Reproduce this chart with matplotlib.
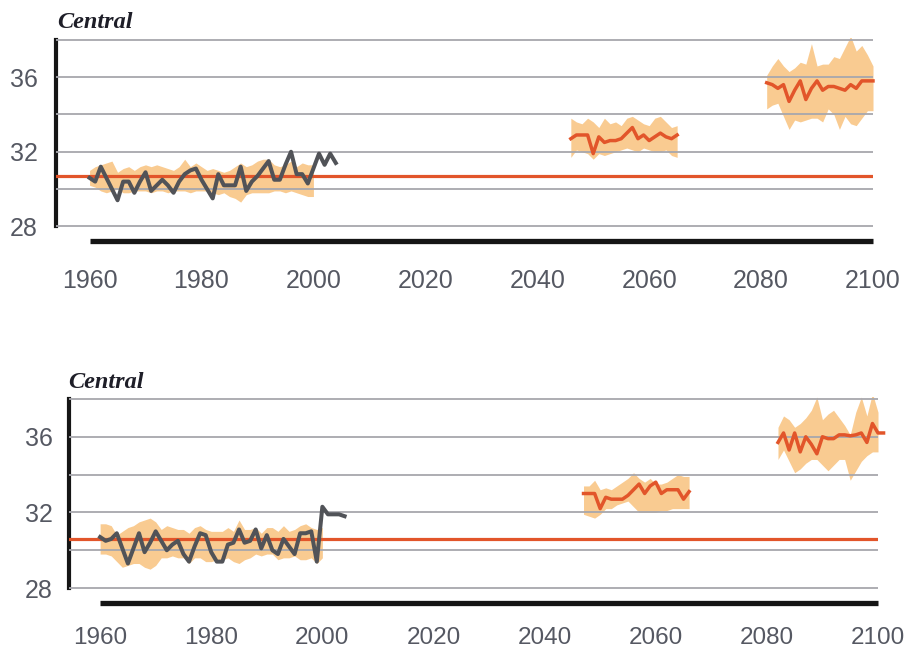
import numpy as np
import matplotlib
matplotlib.use("Agg")
import matplotlib.pyplot as plt
from matplotlib.ticker import FixedLocator

# -----------------------------
# Data
# -----------------------------
BASELINE_TOP = 30.68
BASELINE_BOT = 30.6

# observed series, 1960-2004
obs_years = np.arange(1960, 2005)
obs_top = [30.6, 30.4, 31.2, 30.6, 30.0, 29.4, 30.4, 30.4, 29.8, 30.4,
           30.9, 29.9, 30.2, 30.5, 30.2, 29.8, 30.4, 30.8, 31.0, 31.1,
           30.5, 30.0, 29.5, 30.8, 30.2, 30.2, 30.2, 31.2, 29.9, 30.4,
           30.7, 31.1, 31.5, 30.5, 30.5, 31.3, 32.0, 30.8, 30.8, 30.3,
           31.1, 31.9, 31.3, 31.9, 31.4]
obs_bot = [30.7, 30.5, 30.6, 30.9, 30.1, 29.3, 30.1, 30.9, 29.9, 30.4,
           31.0, 30.5, 30.0, 30.3, 30.5, 29.8, 29.4, 30.2, 30.9, 30.8,
           29.9, 29.4, 29.4, 30.3, 30.4, 31.1, 30.4, 30.5, 31.1, 30.1,
           30.8, 30.0, 29.8, 30.6, 30.2, 29.8, 30.9, 30.9, 31.0, 29.4,
           32.3, 31.9, 31.9, 31.9, 31.8]

# model range for the historical period, 1960-2000
hist_years = np.arange(1960, 2001)
hist_hi_top = [31.0, 31.2, 31.3, 31.4, 31.5, 30.9, 31.1, 31.2, 31.0, 31.2,
               31.3, 31.2, 31.3, 31.2, 31.1, 31.0, 31.2, 31.6, 31.2, 31.4,
               31.2, 31.0, 31.1, 31.0, 30.9, 31.0, 31.2, 31.4, 31.2, 31.3,
               31.5, 31.6, 31.6, 31.3, 31.2, 31.3, 31.5, 31.2, 31.4, 31.3,
               31.3]
hist_lo_top = [30.2, 30.1, 29.9, 29.8, 29.9, 30.0, 29.8, 29.8, 29.9, 29.9,
               29.9, 29.8, 29.9, 29.9, 29.8, 29.9, 29.9, 29.9, 29.8, 29.9,
               29.9, 29.9, 29.8, 29.7, 29.8, 29.6, 29.5, 29.3, 29.7, 29.8,
               29.8, 29.8, 29.8, 29.9, 29.9, 29.8, 29.9, 29.8, 29.7, 29.6,
               29.6]
hist_hi_bot = [31.4, 31.4, 31.3, 30.8, 31.0, 31.2, 31.3, 31.5, 31.6, 31.7,
               31.5, 31.1, 31.3, 31.2, 31.1, 31.1, 30.9, 31.2, 31.3, 31.1,
               31.0, 31.0, 31.0, 31.2, 31.0, 31.6, 31.1, 31.1, 31.2, 30.9,
               31.2, 31.2, 31.0, 31.3, 31.0, 31.1, 31.3, 31.4, 31.2, 31.1,
               31.2]
hist_lo_bot = [29.8, 29.8, 29.7, 29.4, 29.1, 29.2, 29.3, 29.3, 29.1, 29.0,
               29.2, 29.6, 29.6, 29.7, 29.6, 29.6, 29.3, 29.6, 29.6, 29.4,
               29.4, 29.5, 29.5, 29.6, 29.4, 29.3, 29.5, 29.6, 29.8, 29.7,
               29.8, 29.8, 29.5, 29.6, 29.6, 29.7, 29.5, 29.5, 29.6, 29.3,
               29.6]

# mid-century projection
mid_years_top = np.arange(2046, 2066)
mid_top = [32.7, 32.9, 32.9, 32.9, 31.9, 32.8, 32.5, 32.6, 32.6, 32.7,
           33.0, 33.3, 32.7, 32.9, 32.6, 32.8, 33.0, 32.8, 32.7, 32.9]
mid_hi_top = [33.8, 33.6, 33.5, 33.8, 33.6, 33.3, 33.8, 33.5, 33.6, 33.4,
              33.8, 33.9, 33.7, 33.5, 33.4, 33.8, 33.9, 33.6, 33.3, 33.4]
mid_lo_top = [31.7, 32.1, 32.0, 31.9, 31.6, 31.9, 31.8, 31.9, 32.0, 32.1,
              32.2, 32.1, 32.0, 32.2, 32.1, 32.0, 32.0, 32.1, 31.8, 31.7]

mid_years_bot = np.arange(2047, 2067)
mid_bot = [33.0, 33.0, 33.0, 32.2, 32.8, 32.7, 32.7, 32.7, 32.9, 33.2,
           33.5, 33.0, 33.4, 33.6, 33.0, 33.2, 33.2, 33.2, 32.7, 33.1]
mid_hi_bot = [33.4, 33.4, 33.7, 33.2, 33.3, 33.2, 33.4, 33.6, 33.8, 34.1,
              33.8, 33.6, 33.8, 33.5, 33.5, 33.6, 33.8, 34.0, 33.9, 33.9]
mid_lo_bot = [31.9, 31.8, 31.7, 31.9, 32.2, 32.2, 32.4, 32.5, 32.6, 32.3,
              32.0, 32.0, 32.0, 32.0, 32.1, 32.1, 32.2, 32.2, 32.2, 32.2]

# late-century projection
late_years_top = np.arange(2081, 2101)
late_top = [35.7, 35.6, 35.4, 35.6, 34.7, 35.3, 35.8, 34.8, 35.4, 35.8,
            35.3, 35.5, 35.5, 35.4, 35.3, 35.6, 35.4, 35.8, 35.8, 35.8]
late_hi_top = [36.1, 36.6, 37.0, 36.6, 36.3, 36.5, 36.8, 36.7, 37.8, 36.6,
               36.7, 36.7, 37.1, 37.0, 37.6, 38.2, 37.4, 37.7, 37.2, 36.6]
late_lo_top = [34.3, 34.5, 34.6, 33.9, 33.2, 33.7, 33.6, 33.7, 33.8, 33.8,
               33.6, 34.3, 34.0, 33.2, 33.9, 33.5, 33.4, 33.8, 34.2, 34.2]

late_years_bot = np.arange(2082, 2102)
late_bot = [35.7, 36.2, 35.3, 36.2, 35.2, 36.0, 35.6, 35.1, 36.0, 35.9,
            35.9, 36.1, 36.1, 36.05, 36.1, 36.2, 35.7, 36.7, 36.2, 36.2]
late_band_years_bot = np.arange(2082, 2101)
late_hi_bot = [36.5, 37.1, 36.9, 36.5, 36.7, 37.0, 37.4, 38.1, 36.9, 37.2,
               37.4, 37.0, 36.6, 36.1, 37.3, 38.1, 37.1, 38.3, 37.3]
late_lo_bot = [34.8, 35.3, 34.7, 34.1, 34.3, 34.6, 34.8, 34.8, 34.5, 34.2,
               34.5, 34.8, 34.8, 33.7, 34.2, 34.7, 35.0, 35.2, 35.2]

x_ticks = [1960, 1980, 2000, 2020, 2040, 2060, 2080, 2100]
y_major = [28, 32, 36]
y_minor = [30, 34, 38]

# -----------------------------
# Styles
# -----------------------------
BAND = "#f9cb91"
RED = "#e2552a"
OBS = "#515358"
GRID = "#a7a7ad"
LABEL = "#555862"

plt.rcParams["font.family"] = ["Liberation Sans", "DejaVu Sans"]

fig = plt.figure(figsize=(9.08, 6.53), dpi=100)

panels = [
    dict(rect=[56 / 908, 0.6248, 817 / 908, 0.3170], xmin=1954.0,
         obs=obs_top, hi=hist_hi_top, lo=hist_lo_top, base=BASELINE_TOP,
         mid=(mid_years_top, mid_top, mid_years_top, mid_hi_top, mid_lo_top),
         late=(late_years_top, late_top, late_years_top, late_hi_top, late_lo_top),
         title_xy=(57 / 908, 1 - 28 / 653), ypad=13, xpad=20, xsize=18),
    dict(rect=[69 / 908, 0.0704, 809 / 908, 0.3216], xmin=1954.4,
         obs=obs_bot, hi=hist_hi_bot, lo=hist_lo_bot, base=BASELINE_BOT,
         mid=(mid_years_bot, mid_bot, mid_years_bot, mid_hi_bot, mid_lo_bot),
         late=(late_years_bot, late_bot, late_band_years_bot, late_hi_bot, late_lo_bot),
         title_xy=(68 / 908, 1 - 388 / 653), ypad=11.5, xpad=17, xsize=17.5),
]

for p in panels:
    ax = fig.add_axes(p["rect"])
    ax.set_xlim(p["xmin"], 2100)
    ax.set_ylim(27.0, 38.1)

    # shaded model ranges
    ax.fill_between(hist_years, p["lo"], p["hi"], color=BAND, lw=0, zorder=1)
    for yrs, vals, byrs, hi, lo in (p["mid"], p["late"]):
        ax.fill_between(byrs, lo, hi, color=BAND, lw=0, zorder=1)

    # gridlines over the bands
    ax.yaxis.set_major_locator(FixedLocator(y_major))
    ax.yaxis.set_minor_locator(FixedLocator(y_minor))
    ax.grid(axis="y", which="both", color=GRID, lw=1.3, zorder=2)
    ax.set_axisbelow(False)

    ax.axhline(p["base"], color=RED, lw=2.3, zorder=3)
    ax.plot(obs_years, p["obs"], color=OBS, lw=2.9, zorder=4)
    for yrs, vals, byrs, hi, lo in (p["mid"], p["late"]):
        ax.plot(yrs, vals, color=RED, lw=2.5, zorder=4, clip_on=False)

    # spines
    for s in ("top", "right"):
        ax.spines[s].set_visible(False)
    ax.spines["left"].set_bounds(28, 38)
    ax.spines["left"].set_linewidth(3.0)
    ax.spines["left"].set_color("#151515")
    ax.spines["bottom"].set_position(("data", 27.2))
    ax.spines["bottom"].set_bounds(1960, 2100)
    ax.spines["bottom"].set_linewidth(3.8)
    ax.spines["bottom"].set_color("#151515")
    ax.spines["bottom"].set_capstyle("butt")

    ax.set_xticks(x_ticks)
    ax.tick_params(axis="x", length=0, pad=p["xpad"], labelsize=p["xsize"],
                   labelcolor=LABEL)
    ax.tick_params(axis="y", which="both", length=0, pad=p["ypad"],
                   labelsize=18, labelcolor=LABEL)

    fig.text(p["title_xy"][0], p["title_xy"][1], "Central",
             family=["Liberation Serif", "DejaVu Serif"], style="italic",
             weight="bold", fontsize=17.5, color="#1e1e28", va="baseline")

fig.savefig("out.png", dpi=100)
